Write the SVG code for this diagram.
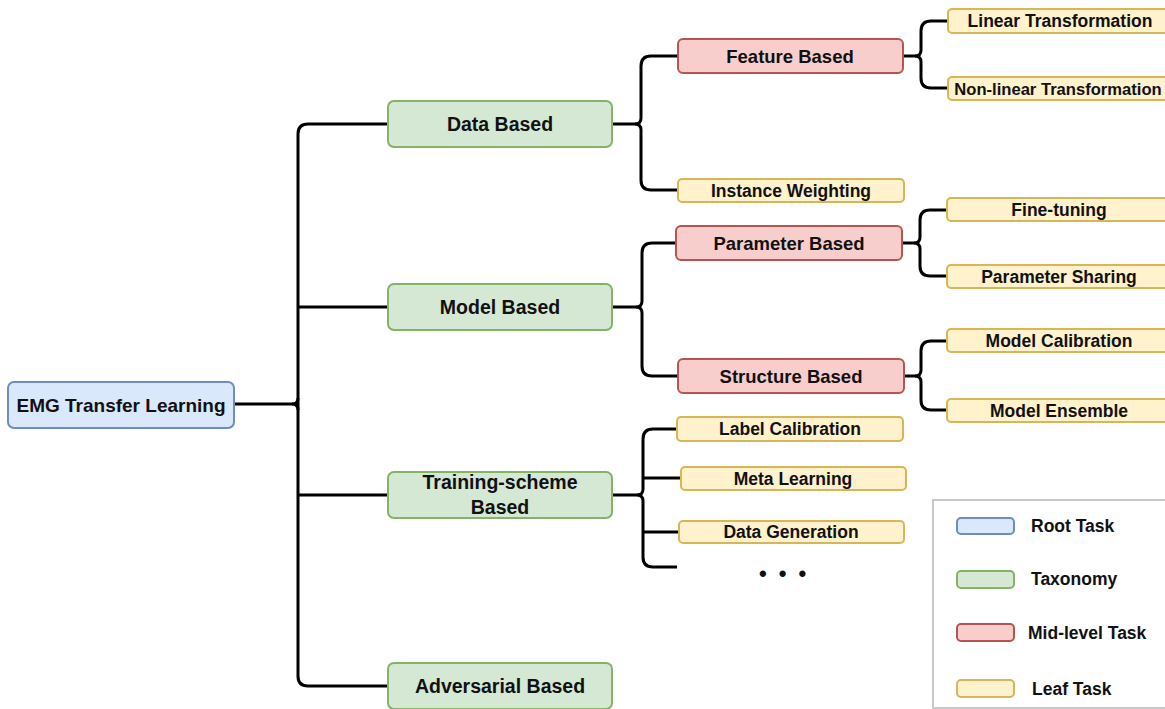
<svg xmlns="http://www.w3.org/2000/svg" width="1165" height="709" viewBox="0 0 1165 709">
  <style>
    .box { stroke-width: 2; }
    .root { fill: #dae8fc; stroke: #6c8ebf; }
    .tax { fill: #d5e8d4; stroke: #82b366; }
    .mid { fill: #f8cecc; stroke: #b85450; }
    .leaf { fill: #fff2cc; stroke: #d6b656; }
    text { font-family: "Liberation Sans", Arial, Helvetica, sans-serif; font-weight: bold; fill: #111; text-anchor: middle; }
    .t-root { font-size: 19px; }
    .t-tax { font-size: 19.5px; }
    .t-mid { font-size: 18.5px; }
    .t-leaf { font-size: 17.5px; }
    .t-legend { font-size: 17.5px; text-anchor: start; }
    .edge { fill: none; stroke: #000; stroke-width: 3; stroke-linejoin: round; }
  </style>

  <rect width="1165" height="709" fill="#ffffff"/>

  <!-- connectors -->
  <g id="connectors" class="edge">
    <!-- root to taxonomy trunk -->
    <path d="M234,404 H292 Q298,404 298,398"/>
    <path d="M292,404 Q298,404 298,410"/>
    <path d="M388,124 H308 Q298,124 298,134 V676 Q298,686 308,686 H388"/>
    <path d="M298,307 H388"/>
    <path d="M298,495 H388"/>

    <!-- Data Based -->
    <path d="M612,124 H635 Q641,124 641,118 V66 Q641,56 651,56 H678"/>
    <path d="M635,124 Q641,124 641,130 V180 Q641,190 651,190 H678"/>

    <!-- Model Based -->
    <path d="M612,307 H636 Q642,307 642,301 V253 Q642,243 652,243 H676"/>
    <path d="M636,307 Q642,307 642,313 V366 Q642,376 652,376 H678"/>

    <!-- Training-scheme Based -->
    <path d="M613,495 H637 Q643,495 643,489 V439 Q643,429 653,429 H677"/>
    <path d="M637,495 Q643,495 643,501 V557 Q643,567 653,567 H677"/>
    <path d="M643,478 H681"/>
    <path d="M643,532 H679"/>

    <!-- Feature Based -->
    <path d="M903,56 H915 Q921,56 921,50 V31 Q921,21 931,21 H948"/>
    <path d="M915,56 Q921,56 921,62 V78 Q921,88 931,88 H948"/>

    <!-- Parameter Based -->
    <path d="M902,243 H914 Q920,243 920,237 V220 Q920,210 930,210 H947"/>
    <path d="M914,243 Q920,243 920,249 V266 Q920,276 930,276 H947"/>

    <!-- Structure Based -->
    <path d="M904,376 H915 Q921,376 921,370 V351 Q921,341 931,341 H947"/>
    <path d="M915,376 Q921,376 921,382 V400 Q921,410 931,410 H947"/>
  </g>

  <!-- root -->
  <g id="node-root">
    <rect class="box root" x="8" y="382" width="226" height="46" rx="6"/>
    <text class="t-root" x="121" y="411.5">EMG Transfer Learning</text>
  </g>

  <!-- taxonomy -->
  <g id="node-data">
    <rect class="box tax" x="388" y="101" width="224" height="46" rx="6"/>
    <text class="t-tax" x="500" y="130.5">Data Based</text>
  </g>
  <g id="node-model">
    <rect class="box tax" x="388" y="284" width="224" height="46" rx="6"/>
    <text class="t-tax" x="500" y="313.5">Model Based</text>
  </g>
  <g id="node-training">
    <rect class="box tax" x="388" y="472" width="224" height="46" rx="6"/>
    <text class="t-tax" x="500" y="488.5">Training-scheme</text>
    <text class="t-tax" x="500" y="513.5">Based</text>
  </g>
  <g id="node-adversarial">
    <rect class="box tax" x="388" y="663" width="224" height="46" rx="6"/>
    <text class="t-tax" x="500" y="692.5">Adversarial Based</text>
  </g>

  <!-- mid-level -->
  <g id="node-feature">
    <rect class="box mid" x="678" y="39" width="225" height="34" rx="5"/>
    <text class="t-mid" x="790" y="62.5">Feature Based</text>
  </g>
  <g id="node-parameter">
    <rect class="box mid" x="676" y="226" width="226" height="34" rx="5"/>
    <text class="t-mid" x="789" y="249.5">Parameter Based</text>
  </g>
  <g id="node-structure">
    <rect class="box mid" x="678" y="359" width="226" height="34" rx="5"/>
    <text class="t-mid" x="791" y="382.5">Structure Based</text>
  </g>

  <!-- leaves -->
  <g id="node-linear">
    <rect class="box leaf" x="948" y="9" width="225" height="24" rx="4"/>
    <text class="t-leaf" x="1060" y="27">Linear Transformation</text>
  </g>
  <g id="node-nonlinear">
    <rect class="box leaf" x="948" y="77" width="225" height="23" rx="4"/>
    <text class="t-leaf" style="font-size:16.6px" x="1058" y="94.5">Non-linear Transformation</text>
  </g>
  <g id="node-instance">
    <rect class="box leaf" x="678" y="179" width="226" height="23" rx="4"/>
    <text class="t-leaf" x="791" y="196.5">Instance Weighting</text>
  </g>
  <g id="node-finetuning">
    <rect class="box leaf" x="947" y="198" width="226" height="23" rx="4"/>
    <text class="t-leaf" x="1059" y="215.5">Fine-tuning</text>
  </g>
  <g id="node-sharing">
    <rect class="box leaf" x="947" y="265" width="226" height="23" rx="4"/>
    <text class="t-leaf" x="1059" y="282.5">Parameter Sharing</text>
  </g>
  <g id="node-calibration">
    <rect class="box leaf" x="947" y="329" width="226" height="23" rx="4"/>
    <text class="t-leaf" x="1059" y="346.5">Model Calibration</text>
  </g>
  <g id="node-ensemble">
    <rect class="box leaf" x="947" y="399" width="226" height="23" rx="4"/>
    <text class="t-leaf" x="1059" y="416.5">Model Ensemble</text>
  </g>
  <g id="node-label">
    <rect class="box leaf" x="677" y="417" width="226" height="24" rx="4"/>
    <text class="t-leaf" x="790" y="435">Label Calibration</text>
  </g>
  <g id="node-meta">
    <rect class="box leaf" x="681" y="467" width="225" height="23" rx="4"/>
    <text class="t-leaf" x="793" y="484.5">Meta Learning</text>
  </g>
  <g id="node-generation">
    <rect class="box leaf" x="679" y="521" width="225" height="22" rx="4"/>
    <text class="t-leaf" x="791" y="538">Data Generation</text>
  </g>
  <g id="node-more">
    <text style="font-size:22px; text-anchor:start; letter-spacing:12px" x="759" y="581">•••</text>
  </g>

  <!-- legend -->
  <g id="legend">
    <rect x="933" y="500" width="240" height="208" fill="#ffffff" stroke="#c8c8c8" stroke-width="2"/>
    <rect class="box root" x="957" y="518" width="57" height="16" rx="4"/>
    <text class="t-legend" x="1031" y="532">Root Task</text>
    <rect class="box tax" x="957" y="571" width="57" height="17" rx="4"/>
    <text class="t-legend" x="1031" y="585">Taxonomy</text>
    <rect class="box mid" x="957" y="624" width="57" height="17" rx="4"/>
    <text class="t-legend" x="1028" y="639">Mid-level Task</text>
    <rect class="box leaf" x="957" y="680" width="57" height="17" rx="4"/>
    <text class="t-legend" x="1032" y="695">Leaf Task</text>
  </g>
</svg>
